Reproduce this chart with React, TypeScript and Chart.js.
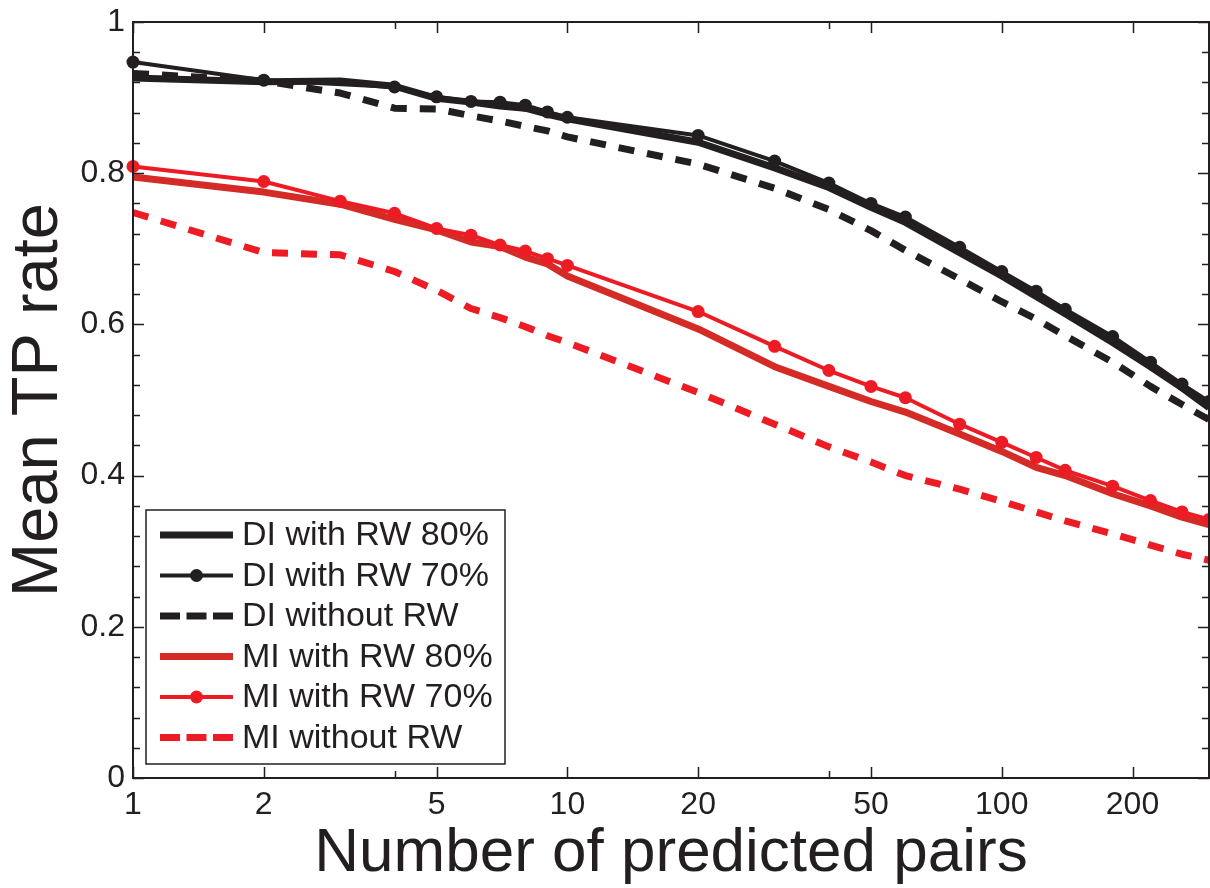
import React, { useEffect, useRef } from 'react';
import { Chart, registerables } from 'chart.js';

Chart.register(...registerables);

const INK = '#231f20';
const RED = '#ed1c24';
const DARK_RED = '#d42b27';
const FONT = '"Liberation Sans", Arial, Helvetica, sans-serif';

// Number of predicted pairs at which each curve was sampled
const pairsFull = [1, 2, 3, 4, 5, 6, 7, 8, 9, 10, 20, 30, 40, 50, 60, 80, 100, 120, 140, 180, 220, 260, 300];
const pairsDI70 = [1, 2, 4, 5, 6, 7, 8, 9, 10, 20, 30, 40, 50, 60, 80, 100, 120, 140, 180, 220, 260, 300];

// Mean TP rate per series
const diRw80 = [0.926, 0.921, 0.922, 0.915, 0.899, 0.894, 0.889, 0.886, 0.878, 0.872, 0.841, 0.807, 0.781, 0.755, 0.735, 0.695, 0.664, 0.637, 0.614, 0.576, 0.544, 0.516, 0.490];
const diRw70 = [0.947, 0.923, 0.914, 0.901, 0.895, 0.894, 0.890, 0.881, 0.874, 0.850, 0.816, 0.787, 0.760, 0.742, 0.702, 0.670, 0.644, 0.620, 0.584, 0.550, 0.521, 0.498];
const diNoRw = [0.932, 0.922, 0.906, 0.886, 0.885, 0.876, 0.869, 0.862, 0.856, 0.848, 0.812, 0.780, 0.752, 0.724, 0.698, 0.660, 0.630, 0.607, 0.585, 0.550, 0.518, 0.494, 0.474];
const miRw80 = [0.795, 0.775, 0.759, 0.739, 0.725, 0.709, 0.703, 0.689, 0.680, 0.664, 0.594, 0.544, 0.518, 0.498, 0.484, 0.455, 0.432, 0.411, 0.400, 0.376, 0.360, 0.345, 0.335];
const miRw70 = [0.809, 0.789, 0.763, 0.747, 0.727, 0.718, 0.705, 0.697, 0.687, 0.678, 0.617, 0.571, 0.539, 0.518, 0.503, 0.468, 0.444, 0.424, 0.407, 0.386, 0.367, 0.352, 0.342];
const miNoRw = [0.748, 0.695, 0.692, 0.670, 0.645, 0.621, 0.609, 0.597, 0.585, 0.576, 0.510, 0.468, 0.438, 0.418, 0.400, 0.382, 0.366, 0.352, 0.340, 0.323, 0.308, 0.296, 0.288];

// Axis ticks
const xTickValues = [1, 2, 5, 10, 20, 50, 100, 200];
const xTickLabels = ['1', '2', '5', '10', '20', '50', '100', '200'];
const xMinorTicks = [4, 40];
const yTickValues = [0, 0.2, 0.4, 0.6, 0.8, 1];
const yTickLabels = ['0', '0.2', '0.4', '0.6', '0.8', '1'];
const Y_MINOR_STEP = 0.04;

type Series = {
  label: string;
  xs: number[];
  ys: number[];
  color: string;
  width: number;
  dash: number[];
  marker: boolean;
};

const series: Series[] = [
  { label: 'DI with RW 80%', xs: pairsFull, ys: diRw80, color: INK, width: 7, dash: [], marker: false },
  { label: 'DI with RW 70%', xs: pairsDI70, ys: diRw70, color: INK, width: 4, dash: [], marker: true },
  { label: 'DI without RW', xs: pairsFull, ys: diNoRw, color: INK, width: 7, dash: [16, 13], marker: false },
  { label: 'MI with RW 80%', xs: pairsFull, ys: miRw80, color: DARK_RED, width: 7, dash: [], marker: false },
  { label: 'MI with RW 70%', xs: pairsFull, ys: miRw70, color: RED, width: 4, dash: [], marker: true },
  { label: 'MI without RW', xs: pairsFull, ys: miNoRw, color: RED, width: 7, dash: [16, 13], marker: false },
];

// Box around the axes with inward tick marks on all four sides
const axesFrame = {
  id: 'axesFrame',
  afterDatasetsDraw(chart: any) {
    const { ctx, chartArea: a, scales } = chart;
    const xs = scales.x;
    const ys = scales.y;
    ctx.save();
    ctx.strokeStyle = INK;
    ctx.lineWidth = 1.5;
    ctx.beginPath();
    const xMarks = [
      ...xTickValues.map((v) => ({ v, len: 11 })),
      ...xMinorTicks.map((v) => ({ v, len: 7 })),
    ];
    for (const { v, len } of xMarks) {
      const px = Math.round(xs.getPixelForValue(v)) + 0.5;
      ctx.moveTo(px, a.bottom);
      ctx.lineTo(px, a.bottom - len);
      ctx.moveTo(px, a.top);
      ctx.lineTo(px, a.top + len);
    }
    const steps = Math.round(1 / Y_MINOR_STEP);
    for (let k = 0; k <= steps; k++) {
      const v = k * Y_MINOR_STEP;
      const major = k % 5 === 0;
      const len = major ? 11 : 7;
      const py = Math.round(ys.getPixelForValue(v)) + 0.5;
      ctx.moveTo(a.left, py);
      ctx.lineTo(a.left + len, py);
      ctx.moveTo(a.right, py);
      ctx.lineTo(a.right - len, py);
    }
    ctx.stroke();
    ctx.lineWidth = 2;
    ctx.strokeRect(a.left, a.top, a.right - a.left, a.bottom - a.top);
    ctx.restore();
  },
};

// Legend box in the lower-left corner of the axes
const legendBox = {
  id: 'legendBox',
  afterDraw(chart: any) {
    const { ctx, chartArea: a } = chart;
    const left = a.left + 13;
    const right = a.left + 372;
    const bottom = a.bottom - 14;
    const top = bottom - 254;
    const rowH = 40.5;
    const firstRow = top + 25;
    ctx.save();
    ctx.fillStyle = '#ffffff';
    ctx.fillRect(left, top, right - left, bottom - top);
    ctx.strokeStyle = INK;
    ctx.lineWidth = 1.5;
    ctx.strokeRect(left, top, right - left, bottom - top);
    ctx.font = `34px ${FONT}`;
    ctx.textBaseline = 'middle';
    ctx.textAlign = 'left';
    series.forEach((s, i) => {
      const y = firstRow + i * rowH;
      const x0 = left + 14;
      const x1 = left + 87;
      ctx.strokeStyle = s.color;
      ctx.lineWidth = s.width;
      ctx.lineCap = 'butt';
      ctx.setLineDash(s.dash.length ? [20, 6.5] : []);
      ctx.beginPath();
      ctx.moveTo(x0, y);
      ctx.lineTo(x1, y);
      ctx.stroke();
      ctx.setLineDash([]);
      if (s.marker) {
        ctx.fillStyle = s.color;
        ctx.beginPath();
        ctx.arc((x0 + x1) / 2, y, 6.5, 0, Math.PI * 2);
        ctx.fill();
      }
      ctx.fillStyle = INK;
      ctx.fillText(s.label, left + 96, y + 1);
    });
    ctx.restore();
  },
};

export default function App() {
  const canvasRef = useRef<HTMLCanvasElement | null>(null);

  useEffect(() => {
    const canvas = canvasRef.current;
    if (!canvas) return;
    const n = series.length;
    const chart = new Chart(canvas, {
      type: 'line',
      data: {
        datasets: series.map((s, i) => ({
          label: s.label,
          data: s.xs.map((x, j) => ({ x, y: s.ys[j] })),
          borderColor: s.color,
          backgroundColor: s.color,
          borderWidth: s.width,
          borderDash: s.dash,
          borderCapStyle: 'butt',
          borderJoinStyle: 'round',
          pointRadius: s.marker ? 6.5 : 0,
          pointHoverRadius: s.marker ? 6.5 : 0,
          pointBorderWidth: 0,
          pointBackgroundColor: s.color,
          tension: 0,
          fill: false,
          clip: false as any,
          order: n - 1 - i,
        })),
      },
      options: {
        animation: false,
        responsive: false,
        maintainAspectRatio: false,
        events: [],
        layout: { autoPadding: false, padding: { top: 22, right: 1, left: 0, bottom: 0 } },
        plugins: {
          legend: { display: false },
          tooltip: { enabled: false },
        },
        scales: {
          x: {
            type: 'logarithmic',
            position: 'bottom',
            min: 1,
            max: 300,
            grid: { display: false, drawTicks: false },
            border: { display: false },
            afterBuildTicks: (scale: any) => {
              scale.ticks = xTickValues.map((value) => ({ value }));
            },
            afterFit: (scale: any) => {
              scale.height = 110;
              scale.paddingLeft = 0;
              scale.paddingRight = 0;
            },
            ticks: {
              autoSkip: false,
              maxRotation: 0,
              minRotation: 0,
              padding: 8,
              color: INK,
              font: { family: FONT, size: 32 },
              callback: (v: any) => {
                const idx = xTickValues.indexOf(Number(v));
                return idx >= 0 ? xTickLabels[idx] : '';
              },
            },
            title: {
              display: true,
              text: 'Number of predicted pairs',
              color: INK,
              font: { family: FONT, size: 62, lineHeight: 1 },
              padding: { top: 0, bottom: 3 },
            },
          },
          y: {
            type: 'linear',
            position: 'left',
            min: 0,
            max: 1,
            grid: { display: false, drawTicks: false },
            border: { display: false },
            afterBuildTicks: (scale: any) => {
              scale.ticks = yTickValues.map((value) => ({ value }));
            },
            afterFit: (scale: any) => {
              scale.width = 133;
              scale.paddingTop = 0;
              scale.paddingBottom = 0;
            },
            ticks: {
              padding: 8,
              color: INK,
              font: { family: FONT, size: 32 },
              callback: (v: any) => {
                const idx = yTickValues.findIndex((t) => Math.abs(t - Number(v)) < 1e-9);
                return idx >= 0 ? yTickLabels[idx] : '';
              },
            },
            title: {
              display: true,
              text: 'Mean TP rate',
              color: INK,
              font: { family: FONT, size: 65, lineHeight: 1 },
              padding: { top: 7, bottom: 0 },
            },
          },
        },
      },
      plugins: [axesFrame, legendBox],
    } as any);
    return () => chart.destroy();
  }, []);

  return (
    <div style={{ position: 'fixed', left: 0, top: 0, width: 1210, height: 888, background: '#ffffff' }}>
      <canvas ref={canvasRef} width={1210} height={888} style={{ display: 'block' }} />
    </div>
  );
}
